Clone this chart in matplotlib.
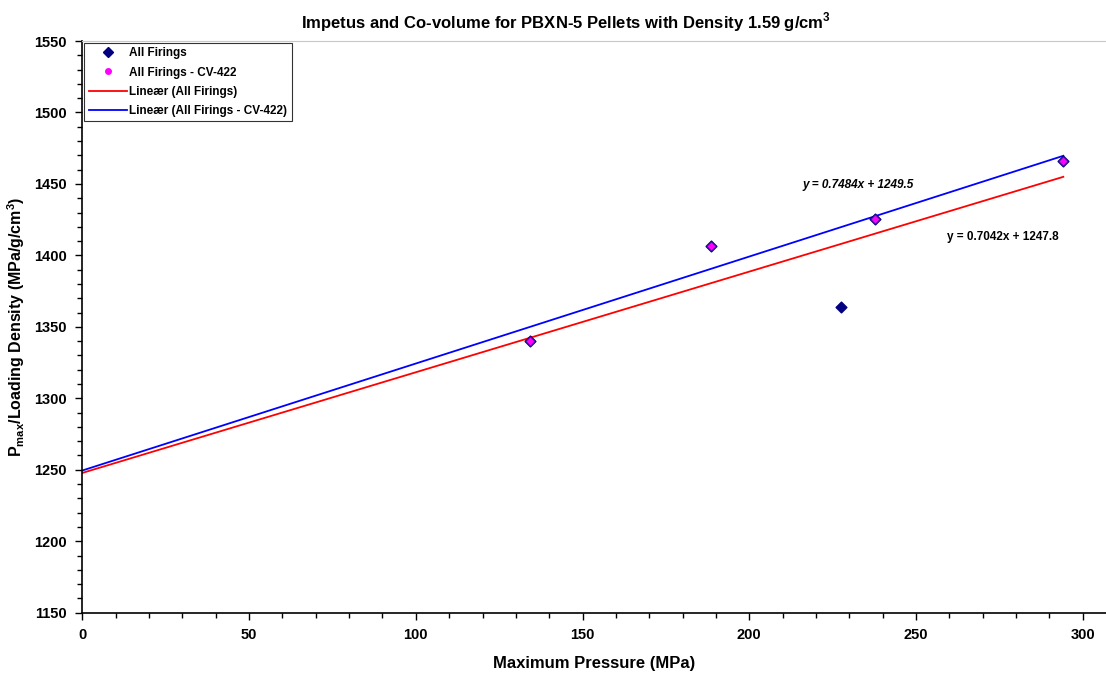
import numpy as np
import matplotlib.pyplot as plt
from matplotlib.lines import Line2D
from matplotlib.ticker import MultipleLocator

plt.rcParams['font.family'] = ['Liberation Sans', 'DejaVu Sans']
plt.rcParams['font.weight'] = 'bold'

# all firings
x_all = [134.2, 188.5, 227.6, 237.8, 294.2]
y_all = [1340.3, 1406.8, 1363.6, 1425.4, 1465.8]
# firings with CV-422
x_cv = [134.2, 188.5, 237.8, 294.2]
y_cv = [1340.3, 1406.8, 1425.4, 1465.8]

# trend lines (from the chart equations)
slope_all, icpt_all = 0.7042, 1247.8
slope_cv, icpt_cv = 0.7484, 1249.5

fig = plt.figure(figsize=(11.06, 6.8), dpi=100)
ax = fig.add_axes([0.0745, 0.099, 0.9255, 0.8407])

xl = np.array([0, max(x_all)])
ax.plot(xl, slope_all*xl + icpt_all, color='#ff0000', lw=1.3, zorder=2)
ax.plot(xl, slope_cv*xl + icpt_cv, color='#0000ff', lw=1.3, zorder=2)
ax.scatter(x_all, y_all, marker='D', s=30, color='#000080', zorder=3)
ax.scatter(x_cv, y_cv, marker='D', s=22, color='#ff00ff', edgecolor='#3a1a9a', lw=0.6, zorder=4)

# equation labels placed in figure fraction
ax.text(858/1106, 1 - 185/680, 'y = 0.7484x + 1249.5', transform=fig.transFigure,
        fontsize=8.5, fontweight='bold', style='italic', ha='center', va='center')
ax.text(1003/1106, 1 - 237/680, 'y = 0.7042x + 1247.8', transform=fig.transFigure,
        fontsize=8.5, fontweight='bold', ha='center', va='center')

ax.set_xlim(0, 307)
ax.set_ylim(1150, 1550)
ax.xaxis.set_major_locator(MultipleLocator(50))
ax.xaxis.set_minor_locator(MultipleLocator(10))
ax.yaxis.set_major_locator(MultipleLocator(50))
ax.yaxis.set_minor_locator(MultipleLocator(10))
ax.tick_params(which='major', length=5, width=1, labelsize=10.5, pad=6)
ax.tick_params(which='minor', length=3.5, width=1)
for lab in ax.get_xticklabels() + ax.get_yticklabels():
    lab.set_fontweight('bold')

ax.spines['top'].set_color('#c8c8c8')
ax.spines['right'].set_visible(False)
ax.spines['left'].set_linewidth(1.2)
ax.spines['bottom'].set_linewidth(1.2)

ax.set_xlabel('Maximum Pressure (MPa)', fontsize=12, fontweight='bold', labelpad=10)
ax.set_ylabel(r'P$_{\mathregular{max}}$/Loading Density (MPa/g/cm$^{\mathregular{3}}$)',
              fontsize=11.5, fontweight='bold', labelpad=5)
fig.suptitle(r'Impetus and Co-volume for PBXN-5 Pellets with Density 1.59 g/cm$^{\mathregular{3}}$',
             fontsize=12, fontweight='bold', x=0.512, y=0.985)

handles = [
    Line2D([], [], ls='none', marker='D', ms=5, color='#000080'),
    Line2D([], [], ls='none', marker='o', ms=4, color='#ff00ff'),
    Line2D([], [], color='#ff0000', lw=1.3),
    Line2D([], [], color='#0000ff', lw=1.3),
]
labels = ['All Firings', 'All Firings - CV-422', 'Lineær (All Firings)',
          'Lineær (All Firings - CV-422)']
leg = ax.legend(handles, labels, loc='upper left', bbox_to_anchor=(0.0, 1.0),
                prop={'size': 8.5, 'weight': 'bold'}, frameon=True, fancybox=False,
                borderaxespad=0.15, handlelength=3.2, handletextpad=0.2,
                labelspacing=0.6, borderpad=0.4)
leg.get_frame().set_edgecolor('black')
leg.get_frame().set_linewidth(0.8)

fig.savefig('out.png', dpi=100)
